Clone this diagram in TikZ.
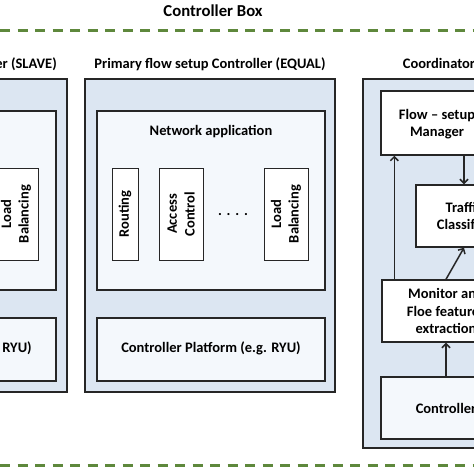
\documentclass[tikz,border=0pt]{standalone}
\usepackage{fontspec}
\setmainfont{Carlito}
\usepackage{tikz}
\usetikzlibrary{arrows.meta}
\usetikzlibrary{calc}
\usetikzlibrary{positioning}
\definecolor{panelblue}{RGB}{220,230,242}
\definecolor{paleblue}{RGB}{244,248,252}
\definecolor{dashgreen}{RGB}{94,136,60}
\definecolor{edgegray}{RGB}{38,38,38}

\begin{document}
\begin{tikzpicture}[x=1pt, y=-1pt, every node/.style={font=\fontsize{14.5}{17.7}\selectfont\bfseries, inner sep=0pt, align=center},
	panel/.style={draw=edgegray, line width=1.4pt, fill=panelblue},
	inbox/.style={draw=edgegray, line width=1.4pt, fill=paleblue},
	whitebox/.style={draw=edgegray, line width=1.4pt, fill=white},
	appbox/.style={draw=edgegray, line width=1pt, fill=white, rotate=90, minimum width=92},
	greendash/.style={draw=dashgreen, line width=3pt, dash pattern=on 10pt off 7.5pt},
	arr/.style={draw=edgegray, line width=1.5pt, -{Straight Barb[length=4pt, width=8pt]}}]
	\path[use as bounding box] (0,0) rectangle (474,474);
	\clip (0,0) rectangle (474,474);
	\node (box) at (213,11) {\fontsize{16.7}{20}\selectfont Controller Box};
	\coordinate (dl) at (0,30);
	\coordinate (dr) at (474,30);
	\coordinate (bl) at (0,465);
	\coordinate (br) at (474,465);
	\draw[greendash] (dl) -- (dr) (bl) -- (br);

	\node[anchor=base east] (st) at (57,68) {Controller (SLAVE)};
	\node[panel, minimum width=250, minimum height=313] (sp) at (-58,235.5) {};
	\node[inbox, minimum width=228, minimum height=179] (sa) at (-58,200.5) {};
	\node[appbox, minimum height=44] (slb) at (16,214) {Load\\Balancing};
	\node[inbox, minimum width=228, minimum height=63] (sc) at (-58,349.5) {};
	\node[anchor=base] (sct) at (-58,352) {Controller Platform (e.g. RYU)};

	\node[anchor=base] (et) at (210,68) {Primary flow setup Controller (EQUAL)};
	\node[panel, minimum width=250, minimum height=313] (ep) at (210,235.5) {};
	\node[inbox, minimum width=228, minimum height=179] (ea) at (211,200.5) {};
	\node[anchor=base] (eat) at (211,135) {Network application};
	\node[appbox, minimum height=26] (rt) at (125,214) {Routing};
	\node[appbox, minimum height=44] (ac) at (181,214) {Access\\Control};
	\node[anchor=base] (dots) at (233,215) {.\,\,.\,\,.\,\,.};
	\node[appbox, minimum height=44] (lb) at (286,214) {Load\\Balancing};
	\node[inbox, minimum width=228, minimum height=63] (ec) at (211,349.5) {};
	\node[anchor=base] (ect) at (211,352) {Controller Platform (e.g. RYU)};

	\node[anchor=base] (ct) at (439,68) {Coordinator};
	\node[panel, minimum width=166, minimum height=369] (cp) at (446,263.5) {};
	\node[whitebox, minimum width=130, minimum height=64] (flow) at (446,123) {};
	\node (flowt) at (437,124) {Flow -- setup\\Manager};
	\node[whitebox, minimum width=96, minimum height=62] (tc) at (464,216) {Traffic\\Classifier};
	\node[whitebox, minimum width=128, minimum height=62] (mon) at (446,311) {Monitor and\\Floe features\\extraction};
	\node[inbox, minimum width=130, minimum height=62] (ctl) at (446,408) {Controller};
	\coordinate (up) at ([xshift=13pt]mon.north west);
	\draw[arr] (up) -- (up |- flow.south);
	\draw[arr] (flow.south -| tc.north) -- (tc.north);
	\draw[arr] (mon.north) -- (tc.south);
	\draw[arr] (ctl.north) -- (mon.south);
\end{tikzpicture}
\end{document}
